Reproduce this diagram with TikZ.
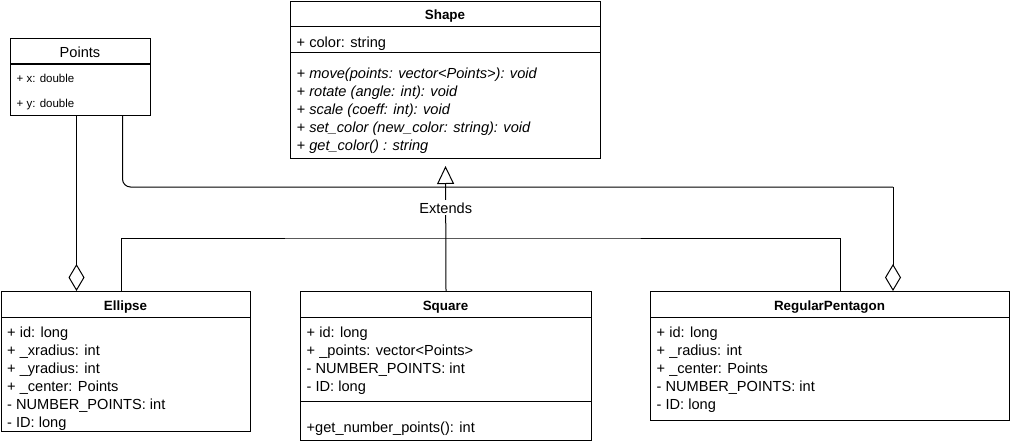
\documentclass[tikz,border=0pt]{standalone}
\usepackage{fontspec}
\setmainfont{Liberation Sans}
\usetikzlibrary{positioning,arrows.meta}

\tikzset{
  classbox/.style={draw, line width=1pt, fill=white, inner sep=0pt, anchor=north west},
  classname/.style={inner sep=0pt, font=\fontsize{13.4}{16}\selectfont\bfseries},
  member/.style={anchor=west, inner sep=0pt, text height=10.5pt, text depth=0pt, font=\fontsize{14.6}{18}\selectfont},
  method/.style={member, font=\fontsize{14.6}{18}\selectfont\itshape},
  smallmember/.style={member, text height=8.2pt, font=\fontsize{11.5}{14}\selectfont},
  rel/.style={draw, line width=1pt},
  extends/.style={rel, -{Triangle[open, length=18pt, width=17pt]}},
  aggregation/.style={rel, -{Diamond[open, length=27pt, width=16pt]}},
}

\begin{document}
\begin{tikzpicture}[x=1pt, y=-1pt]
\useasboundingbox (0,0) rectangle (1011,444);

% class boxes
\node[classbox, minimum width=140pt, minimum height=77pt] (points) at (10,38) {};
\node[classbox, minimum width=310pt, minimum height=157pt] (shape) at (290,1) {};
\node[classbox, minimum width=249pt, minimum height=140pt] (ellipse) at (1,291) {};
\node[classbox, minimum width=291pt, minimum height=149pt] (square) at (300,291) {};
\node[classbox, minimum width=359pt, minimum height=129pt] (pentagon) at (650,291) {};

% Points
\node[inner sep=0pt, font=\fontsize{14.6}{18}\selectfont] (points-title) at (80,52) {Points};
\draw[rel] (10,64) -- (150,64);
\node[smallmember] (points-x) at (16.5,78) {+ x: double};
\node[smallmember] (points-y) at (16.5,103) {+ y: double};

% Shape
\node[classname] (shape-title) at (445,16) {Shape};
\draw[rel] (290,27) -- (600,27);
\node[member] (shape-a0) at (296.5,42) {+ color: string};
\draw[rel] (290,53) -- (600,53);
\foreach \m [count=\i from 0] in {+ move(points: vector<Points>): void,
    + rotate (angle: int): void, + scale (coeff: int): void,
    + set\_color (new\_color: string): void, + get\_color() : string}
  \node[method] (shape-m\i) at (296.5,{73+18*\i}) {\m};

% Ellipse
\node[classname] (ellipse-title) at (125.5,307) {Ellipse};
\draw[rel] (1,317) -- (250,317);
\foreach \m [count=\i from 0] in {+ id: long, + \_xradius: int, + \_yradius: int,
    + \_center: Points, - NUMBER\_POINTS: int, - ID: long}
  \node[member] (ellipse-a\i) at (7,{332+18*\i}) {\m};

% Square
\node[classname] (square-title) at (445.5,307) {Square};
\draw[rel] (300,317) -- (591,317);
\foreach \m [count=\i from 0] in {+ id: long, + \_points: vector<Points>,
    - NUMBER\_POINTS: int, - ID: long}
  \node[member] (square-a\i) at (306.5,{332+18*\i}) {\m};
\draw[rel] (300,401) -- (591,401);
\node[member] (square-m0) at (306.5,427) {+get\_number\_points(): int};

% RegularPentagon
\node[classname] (pentagon-title) at (829.5,307) {RegularPentagon};
\draw[rel] (650,317) -- (1009,317);
\foreach \m [count=\i from 0] in {+ id: long, + \_radius: int, + \_center: Points,
    - NUMBER\_POINTS: int, - ID: long}
  \node[member] (pentagon-a\i) at (656.5,{332+18*\i}) {\m};

% generalization
\coordinate (ext) at (445,238);
\draw[rel] ([xshift=-4.5pt]ellipse.north) |- (ext) -| ([xshift=10pt]pentagon.north);
\draw[extends, shorten >=7pt] (square.north) -- node[pos=0.63, fill=white, inner sep=2pt,
  font=\fontsize{14.6}{18}\selectfont] (ext-label) {Extends} (shape.south);

% aggregation
\coordinate (aggjoin) at (893,187);
\draw[aggregation] ([xshift=-4pt]points.south) -- ([xshift=-4pt]points.south |- ellipse.north);
\draw[rel, rounded corners=8pt] ([xshift=42pt]points.south) |- (aggjoin);
\draw[aggregation] (aggjoin) -- (aggjoin |- pentagon.north);
\end{tikzpicture}
\end{document}
